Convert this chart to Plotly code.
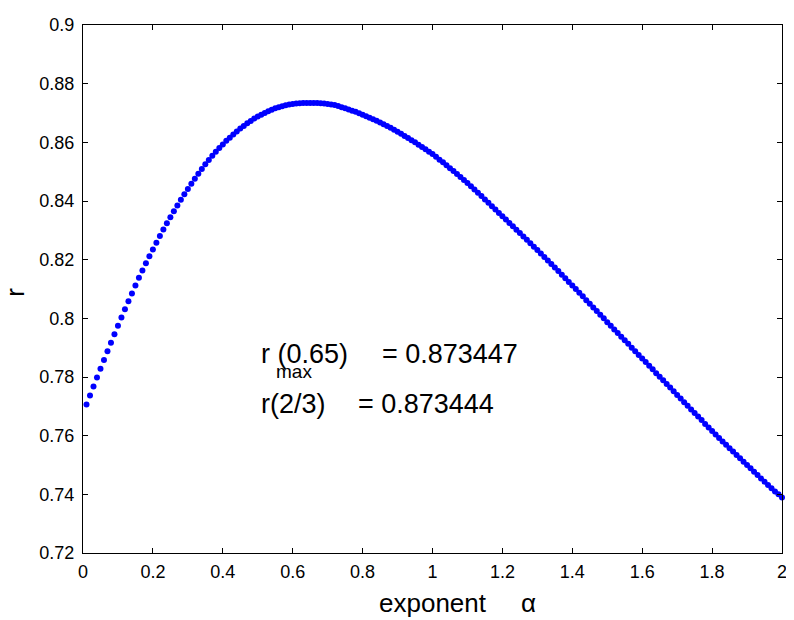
import numpy as np
import plotly.graph_objects as go

# exponent alpha grid (0.01 .. 2.00, step 0.01)
alpha = np.round(np.arange(1, 201) * 0.01, 2)

# r values
r_values = [
    0.7706, 0.7737, 0.7768, 0.7798, 0.7828, 0.7858, 0.7888, 0.7917, 0.7946, 0.7975,
    0.8003, 0.8031, 0.8058, 0.8085, 0.8112, 0.8138, 0.8163, 0.8188, 0.8212, 0.8235,
    0.8258, 0.8281, 0.8303, 0.8324, 0.8345, 0.8365, 0.8385, 0.8404, 0.8423, 0.8441,
    0.8459, 0.8476, 0.8493, 0.8509, 0.8525, 0.8540, 0.8554, 0.8568, 0.8581, 0.8593,
    0.8605, 0.8616, 0.8627, 0.8637, 0.8647, 0.8656, 0.8665, 0.8673, 0.8681, 0.8688,
    0.8694, 0.8700, 0.8706, 0.8711, 0.8716, 0.8720, 0.8723, 0.8726, 0.8729, 0.8731,
    0.8732, 0.8733, 0.8734, 0.8734, 0.8734, 0.8734, 0.8734, 0.8733, 0.8732, 0.8731,
    0.8729, 0.8727, 0.8724, 0.8720, 0.8716, 0.8712, 0.8708, 0.8704, 0.8699, 0.8694,
    0.8689, 0.8684, 0.8679, 0.8674, 0.8668, 0.8662, 0.8656, 0.8650, 0.8643, 0.8636,
    0.8629, 0.8622, 0.8615, 0.8607, 0.8600, 0.8592, 0.8584, 0.8576, 0.8568, 0.8560,
    0.8551, 0.8541, 0.8532, 0.8522, 0.8512, 0.8502, 0.8492, 0.8482, 0.8472, 0.8461,
    0.8450, 0.8439, 0.8428, 0.8417, 0.8405, 0.8394, 0.8382, 0.8371, 0.8359, 0.8348,
    0.8337, 0.8325, 0.8314, 0.8302, 0.8291, 0.8279, 0.8268, 0.8256, 0.8244, 0.8233,
    0.8221, 0.8209, 0.8197, 0.8185, 0.8173, 0.8161, 0.8149, 0.8137, 0.8124, 0.8112,
    0.8100, 0.8087, 0.8075, 0.8062, 0.8050, 0.8037, 0.8025, 0.8012, 0.8000, 0.7987,
    0.7975, 0.7962, 0.7950, 0.7937, 0.7925, 0.7913, 0.7900, 0.7888, 0.7875, 0.7863,
    0.7851, 0.7838, 0.7826, 0.7813, 0.7801, 0.7789, 0.7776, 0.7764, 0.7751, 0.7739,
    0.7727, 0.7714, 0.7702, 0.7689, 0.7677, 0.7665, 0.7653, 0.7640, 0.7628, 0.7616,
    0.7604, 0.7592, 0.7580, 0.7569, 0.7557, 0.7546, 0.7534, 0.7523, 0.7511, 0.7500,
    0.7489, 0.7477, 0.7466, 0.7454, 0.7443, 0.7432, 0.7421, 0.7410, 0.7400, 0.7389,
]

x_ticks = [0, 0.2, 0.4, 0.6, 0.8, 1, 1.2, 1.4, 1.6, 1.8, 2]
y_ticks = [0.72, 0.74, 0.76, 0.78, 0.8, 0.82, 0.84, 0.86, 0.88, 0.9]

FONT = "Liberation Sans, Arial, sans-serif"

fig = go.Figure()
fig.add_trace(go.Scatter(
    x=alpha, y=r_values, mode="markers",
    marker=dict(color="#0000ff", size=6, line=dict(width=0)),
    showlegend=False, hoverinfo="x+y", cliponaxis=False,
))

axis_common = dict(
    showline=True, linecolor="black", linewidth=1, mirror="ticks",
    ticks="inside", ticklen=5, tickcolor="black", tickwidth=1,
    showgrid=False, zeroline=False,
    tickfont=dict(family=FONT, size=18, color="black"),
)

fig.update_xaxes(range=[0, 2], tickvals=x_ticks, ticktext=[str(v) for v in x_ticks],
                 ticklabelstandoff=2, **axis_common)
fig.update_yaxes(range=[0.72, 0.9], tickvals=y_ticks, ticktext=[str(v) for v in y_ticks],
                 ticklabelstandoff=4, **axis_common)

ann_font = dict(family=FONT, size=27, color="black")
annotations = [
    dict(x=0.503, y=0.7879, xref="x", yref="y", text="r (0.65)", showarrow=False,
         xanchor="left", yanchor="middle", font=ann_font),
    dict(x=0.849, y=0.7879, xref="x", yref="y", text="= 0.873447", showarrow=False,
         xanchor="left", yanchor="middle", font=ann_font),
    dict(x=0.605, y=0.7818, xref="x", yref="y", text="max", showarrow=False,
         xanchor="center", yanchor="middle", font=dict(family=FONT, size=19, color="black")),
    dict(x=0.503, y=0.7707, xref="x", yref="y", text="r(2/3)", showarrow=False,
         xanchor="left", yanchor="middle", font=ann_font),
    dict(x=0.781, y=0.7707, xref="x", yref="y", text="= 0.873444", showarrow=False,
         xanchor="left", yanchor="middle", font=ann_font),
    # axis titles
    dict(x=0.5014, y=-0.094, xref="paper", yref="paper", text="exponent", showarrow=False,
         xanchor="center", yanchor="middle", font=dict(family=FONT, size=26, color="black")),
    dict(x=0.6378, y=-0.094, xref="paper", yref="paper", text="α", showarrow=False,
         xanchor="center", yanchor="middle", font=dict(family=FONT, size=26, color="black")),
    dict(x=-0.097, y=0.4934, xref="paper", yref="paper", text="r", showarrow=False,
         textangle=-90, xanchor="center", yanchor="middle",
         font=dict(family=FONT, size=26, color="black")),
]

# the page body adds an 8px offset; size the figure so the plot area lands
# at page pixels x 83..787, y 20..553
fig.update_layout(
    width=786, height=612,
    margin=dict(l=75, r=7, t=12, b=67),
    paper_bgcolor="white", plot_bgcolor="white",
    annotations=annotations,
    font=dict(family=FONT, color="black"),
)

fig.write_html("out.html")
